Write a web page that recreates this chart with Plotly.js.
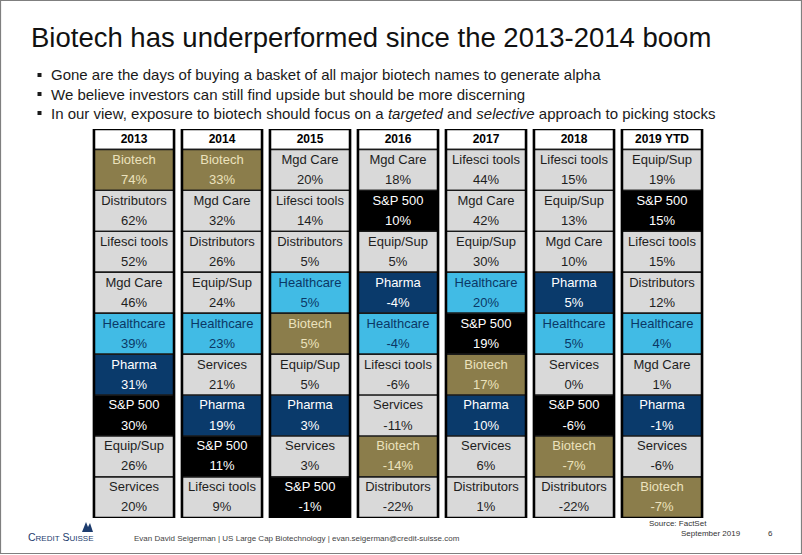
<!DOCTYPE html>
<html><head><meta charset="utf-8">
<script src="https://cdn.plot.ly/plotly-3.0.1.min.js"></script>
<style>html,body{margin:0;padding:0;background:#fff;overflow:hidden}#chart{width:802px;height:555px}</style>
</head><body><div id="chart"></div>
<script>
// ---- data ----
const years = ['2013', '2014', '2015', '2016', '2017', '2018', '2019 YTD'];

const sectors2013 = ['Biotech', 'Distributors', 'Lifesci tools', 'Mgd Care', 'Healthcare', 'Pharma', 'S&P 500', 'Equip/Sup', 'Services'];
const returns2013 = [74, 62, 52, 46, 39, 31, 30, 26, 20];
const sectors2014 = ['Biotech', 'Mgd Care', 'Distributors', 'Equip/Sup', 'Healthcare', 'Services', 'Pharma', 'S&P 500', 'Lifesci tools'];
const returns2014 = [33, 32, 26, 24, 23, 21, 19, 11, 9];
const sectors2015 = ['Mgd Care', 'Lifesci tools', 'Distributors', 'Healthcare', 'Biotech', 'Equip/Sup', 'Pharma', 'Services', 'S&P 500'];
const returns2015 = [20, 14, 5, 5, 5, 5, 3, 3, -1];
const sectors2016 = ['Mgd Care', 'S&P 500', 'Equip/Sup', 'Pharma', 'Healthcare', 'Lifesci tools', 'Services', 'Biotech', 'Distributors'];
const returns2016 = [18, 10, 5, -4, -4, -6, -11, -14, -22];
const sectors2017 = ['Lifesci tools', 'Mgd Care', 'Equip/Sup', 'Healthcare', 'S&P 500', 'Biotech', 'Pharma', 'Services', 'Distributors'];
const returns2017 = [44, 42, 30, 20, 19, 17, 10, 6, 1];
const sectors2018 = ['Lifesci tools', 'Equip/Sup', 'Mgd Care', 'Pharma', 'Healthcare', 'Services', 'S&P 500', 'Biotech', 'Distributors'];
const returns2018 = [15, 13, 10, 5, 5, 0, -6, -7, -22];
const sectors2019 = ['Equip/Sup', 'S&P 500', 'Lifesci tools', 'Distributors', 'Healthcare', 'Mgd Care', 'Pharma', 'Services', 'Biotech'];
const returns2019 = [19, 15, 15, 12, 4, 1, -1, -6, -7];

const sectorsByYear = [sectors2013, sectors2014, sectors2015, sectors2016, sectors2017, sectors2018, sectors2019];
const returnsByYear = [returns2013, returns2014, returns2015, returns2016, returns2017, returns2018, returns2019];

// ---- styles ----
const GREY = '#d9d9d9';
const fillColor = {'Biotech': '#8b7d4b', 'Healthcare': '#41bbe5', 'Pharma': '#0a3a6b', 'S&P 500': '#000000'};
const textColor = {'Biotech': '#ebe2bd', 'Healthcare': '#0b3866', 'Pharma': '#ffffff', 'S&P 500': '#ffffff'};
const FONT = 'Arial, "Liberation Sans", Helvetica, sans-serif';

const cellX = [], cellBase = [], cellH = [], cellFill = [];
const nameY = [], pctY = [], nameTxt = [], pctTxt = [], txtCol = [];
years.forEach((yr, i) => {
  sectorsByYear[i].forEach((s, r) => {
    cellX.push(yr); cellBase.push(r); cellH.push(1);
    cellFill.push(fillColor[s] || GREY);
    txtCol.push(textColor[s] || '#1e1e1e');
    nameY.push(r + 0.27); pctY.push(r + 0.76);
    nameTxt.push(s); pctTxt.push(returnsByYear[i][r] + '%');
  });
});

const traces = [
  {type: 'bar', x: years, y: years.map(() => 0.5), base: years.map(() => -0.5),
   marker: {color: '#ffffff', line: {color: '#111', width: 1.5}}, hoverinfo: 'skip', showlegend: false},
  {type: 'bar', x: cellX, y: cellH, base: cellBase,
   marker: {color: cellFill, line: {color: '#1a1a1a', width: 1.4}}, hoverinfo: 'skip', showlegend: false},
  {type: 'bar', x: years, y: years.map(() => 9.5), base: years.map(() => -0.5),
   marker: {color: 'rgba(0,0,0,0)', line: {color: '#000', width: 2.6}}, hoverinfo: 'skip', showlegend: false},
  {type: 'scatter', mode: 'text', x: years, y: years.map(() => -0.24), text: years.map(t => '<b>' + t + '</b>'),
   textposition: 'middle center', textfont: {family: FONT, size: 12, color: '#000'}, hoverinfo: 'skip', showlegend: false},
  {type: 'scatter', mode: 'text', x: cellX, y: nameY, text: nameTxt,
   textposition: 'middle center', textfont: {family: FONT, size: 13, color: txtCol}, hoverinfo: 'skip', showlegend: false},
  {type: 'scatter', mode: 'text', x: cellX, y: pctY, text: pctTxt,
   textposition: 'middle center', textfont: {family: FONT, size: 13, color: txtCol}, hoverinfo: 'skip', showlegend: false}
];

// pixel -> paper helpers (plot area: x 90..706, y 129..518)
const L = 90, R = 706, T = 129, B = 518;
const px = x => (x - L) / (R - L);
const py = y => (B - y) / (B - T);

const ann = (x, y, text, size, color, extra) => Object.assign({
  xref: 'paper', yref: 'paper', x: px(x), y: py(y), text: text, showarrow: false,
  xanchor: 'left', yanchor: 'middle', font: {family: FONT, size: size, color: color}
}, extra || {});

const annotations = [
  ann(29, 37, 'Biotech has underperformed since the 2013-2014 boom', 27.5, '#111'),
  ann(49, 75, 'Gone are the days of buying a basket of all major biotech names to generate alpha', 15, '#1a1a1a'),
  ann(49, 94, 'We believe investors can still find upside but should be more discerning', 15, '#1a1a1a'),
  ann(49, 113, 'In our view, exposure to biotech should focus on a <i>targeted</i> and <i>selective</i> approach to picking stocks', 15, '#1a1a1a'),
  ann(26, 537, 'C<span style="font-size:8px">REDIT</span> S<span style="font-size:8px">UISSE</span>', 10.5, '#1d3c6e'),
  ann(132, 538, 'Evan David Seigerman | US Large Cap Biotechnology | evan.seigerman@credit-suisse.com', 8, '#444'),
  ann(647, 523, 'Source: FactSet', 8, '#333'),
  ann(679, 533, 'September 2019', 8, '#333'),
  ann(766, 533, '6', 8, '#333')
];

const shapes = [
  {type: 'rect', xref: 'paper', yref: 'paper', x0: px(0.5), x1: px(801.5), y0: py(0.5), y1: py(553.5),
   line: {color: '#7f7f7f', width: 1.2}, fillcolor: 'rgba(0,0,0,0)', layer: 'below'}
];
[75, 94, 113].forEach(y => shapes.push({type: 'rect', xref: 'paper', yref: 'paper',
  x0: px(37.5), x1: px(41.5), y0: py(y - 2), y1: py(y + 2), line: {width: 0}, fillcolor: '#1a1a1a'}));
// small sail mark of the logo
shapes.push({type: 'path', xref: 'paper', yref: 'paper', fillcolor: '#1d3c6e', line: {width: 0},
  path: 'M ' + px(82) + ' ' + py(532) + ' L ' + px(86) + ' ' + py(522) + ' L ' + px(88) + ' ' + py(527) +
        ' L ' + px(90) + ' ' + py(523) + ' L ' + px(93) + ' ' + py(532) + ' Z'});

const layout = {
  width: 802, height: 555, margin: {l: L, r: 802 - R, t: T, b: 555 - B},
  paper_bgcolor: '#fff', plot_bgcolor: 'rgba(0,0,0,0)',
  barmode: 'overlay', bargap: 0.09,
  xaxis: {type: 'category', range: [-0.5, 6.5], visible: false, fixedrange: true},
  yaxis: {range: [9, -0.5], visible: false, fixedrange: true},
  annotations: annotations, shapes: shapes, showlegend: false
};

Plotly.newPlot('chart', traces, layout, {displayModeBar: false, staticPlot: true});
</script></body></html>
